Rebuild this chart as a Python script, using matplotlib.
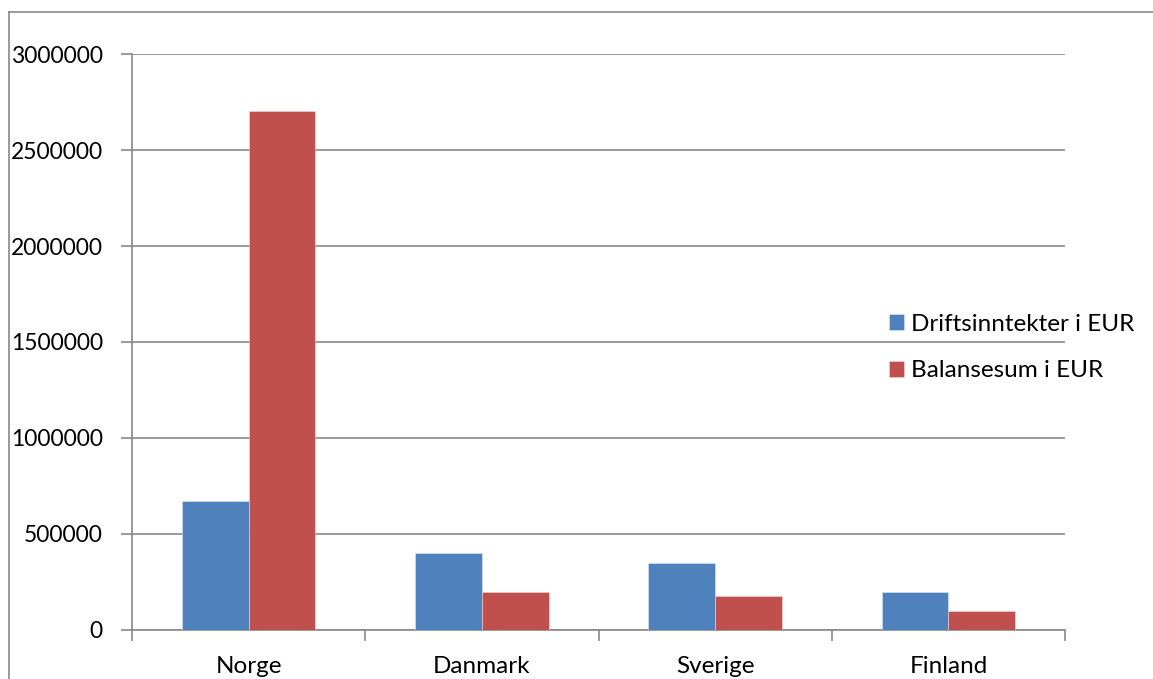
import matplotlib
matplotlib.use("Agg")
import matplotlib.pyplot as plt
import numpy as np
from matplotlib.lines import Line2D

# Data
countries = ["Norge", "Danmark", "Sverige", "Finland"]
driftsinntekter = [672000, 401000, 345000, 197000]
balansesum = [2705000, 197000, 173000, 98000]
series_names = ["Driftsinntekter i EUR", "Balansesum i EUR"]
yticks = [0, 500000, 1000000, 1500000, 2000000, 2500000, 3000000]

BLUE = "#4F81BD"
RED = "#C0504D"
GRID = "#898989"

plt.rcParams["font.family"] = ["Lato", "DejaVu Sans"]
W, H = 1153, 679
fig = plt.figure(figsize=(W / 100, H / 100), dpi=100)

# chart frame (top and left edges visible)
fig.add_artist(Line2D([9 / W, 1.0], [1 - 12 / H, 1 - 12 / H], transform=fig.transFigure,
                      color=GRID, lw=1.2))
fig.add_artist(Line2D([9 / W, 9 / W], [0, 1 - 12 / H], transform=fig.transFigure,
                      color=GRID, lw=1.2))

left, right, top, bottom = 132, 1065, 54.3, 629.5
ax = fig.add_axes([left / W, 1 - bottom / H, (right - left) / W, (bottom - top) / H])

x = np.arange(len(countries))
bw = 1 / 3.5
ax.bar(x - bw / 2, driftsinntekter, width=bw, color=BLUE, edgecolor="#dfe7f2",
       linewidth=0.4, label=series_names[0], zorder=3)
ax.bar(x + bw / 2, balansesum, width=bw, color=RED, edgecolor="#f0d8d7",
       linewidth=0.4, label=series_names[1], zorder=3)

ax.set_xlim(-0.5, len(countries) - 0.5)
ax.set_ylim(0, 3000000)
ax.set_yticks(yticks)
ax.set_yticklabels([str(v) for v in yticks])
ax.yaxis.grid(True, color=GRID, linewidth=1.2, zorder=0)
ax.set_axisbelow(True)

ax.set_xticks(x)
ax.set_xticklabels(countries)
ax.set_xticks(np.arange(-0.5, len(countries), 1.0), minor=True)
ax.tick_params(axis="x", which="major", length=0, pad=19, labelsize=17.5)
ax.tick_params(axis="x", which="minor", length=8, width=1.2, color=GRID, direction="out")
ax.tick_params(axis="y", length=8, width=1.2, color=GRID, pad=13, labelsize=16.5)

for s in ["top", "right"]:
    ax.spines[s].set_visible(False)
for s in ["left", "bottom"]:
    ax.spines[s].set_color(GRID)
    ax.spines[s].set_linewidth(1.2)

leg = ax.legend(loc="center left", bbox_to_anchor=(889 / W, 1 - 347.5 / H),
                bbox_transform=fig.transFigure, frameon=False, fontsize=17.5,
                handlelength=0.62, handleheight=0.62, handletextpad=0.3,
                labelspacing=1.05, borderpad=0, borderaxespad=0)

fig.savefig("out.png", dpi=100)
